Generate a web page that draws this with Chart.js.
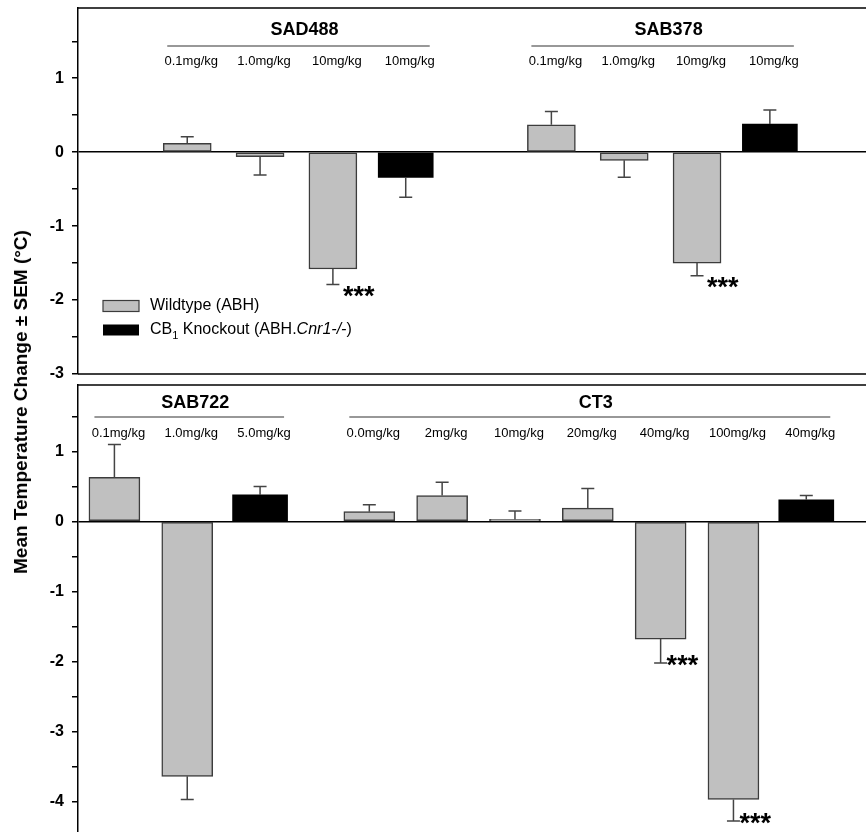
<!DOCTYPE html>
<html>
<head>
<meta charset="utf-8">
<script src="https://cdn.jsdelivr.net/npm/chart.js@4.4.0/dist/chart.umd.min.js"></script>
<style>
  html, body { margin: 0; padding: 0; background: #fff; overflow: hidden; }
  #wrap { position: relative; width: 866px; height: 832px; overflow: hidden; }
  canvas { position: absolute; left: 0; }
  #top-chart { top: 0; }
  #bottom-chart { top: 376px; }
  #y-title {
    position: absolute; left: 21px; top: 402px;
    transform: translate(-50%, -50%) rotate(-90deg);
    white-space: nowrap;
    font: bold 19px "Liberation Sans", Arial, sans-serif;
  }
</style>
</head>
<body>
<div id="wrap">
  <canvas id="top-chart" width="866" height="392" style="width:866px;height:392px"></canvas>
  <canvas id="bottom-chart" width="866" height="460" style="width:866px;height:460px"></canvas>
  <div id="y-title">Mean Temperature Change ± SEM (°C)</div>
</div>
<script>
// Top panel data (SAD488, SAB378)
const topGroups = ['SAD488', 'SAB378'];
const topGroupSlots = [[1, 4], [6, 9]];
const topDoseSlots = [1, 2, 3, 4, 6, 7, 8, 9];
const topDoseLabels = ['0.1mg/kg', '1.0mg/kg', '10mg/kg', '10mg/kg', '0.1mg/kg', '1.0mg/kg', '10mg/kg', '10mg/kg'];
const topWildSlots = [1, 2, 3, 6, 7, 8];
const topWildValues = [0.12, -0.06, -1.58, 0.37, -0.11, -1.50];
const topWildErrors = [0.09, 0.25, 0.21, 0.18, 0.23, 0.17];
const topWildStars = [false, false, true, false, false, true];
const topKoSlots = [4, 9];
const topKoValues = [-0.34, 0.38];
const topKoErrors = [0.27, 0.19];

// Bottom panel data (SAB722, CT3)
const bottomGroups = ['SAB722', 'CT3'];
const bottomGroupSlots = [[0, 2], [3.5, 9.5]];
const bottomDoseSlots = [0, 1, 2, 3.5, 4.5, 5.5, 6.5, 7.5, 8.5, 9.5];
const bottomDoseLabels = ['0.1mg/kg', '1.0mg/kg', '5.0mg/kg', '0.0mg/kg', '2mg/kg', '10mg/kg', '20mg/kg', '40mg/kg', '100mg/kg', '40mg/kg'];
const bottomWildSlots = [0, 1, 3.5, 4.5, 5.5, 6.5, 7.5, 8.5];
const bottomWildValues = [0.63, -3.64, 0.14, 0.37, 0.03, 0.19, -1.68, -3.97];
const bottomWildErrors = [0.47, 0.33, 0.10, 0.19, 0.12, 0.28, 0.34, 0.31];
const bottomWildStars = [false, false, false, false, false, false, true, true];
const bottomKoSlots = [2, 9.5];
const bottomKoValues = [0.38, 0.31];
const bottomKoErrors = [0.12, 0.06];

// Legend text
const seriesNames = ['Wildtype (ABH)', 'CB1 Knockout (ABH.Cnr1-/-)'];

const FONT = '"Liberation Sans", Arial, sans-serif';

function points(slots, values) {
  return slots.map((x, i) => ({ x: x, y: values[i] }));
}

// Error bars, stars, frame, group headers and legend
const panelDecor = {
  id: 'panelDecor',
  afterDatasetsDraw(chart, args, opts) {
    const ctx = chart.ctx;
    const xs = chart.scales.x;
    const ys = chart.scales.y;
    const area = chart.chartArea;
    ctx.save();

    // error bars
    chart.data.datasets.forEach(ds => {
      ds.errors.forEach((err, i) => {
        const v = ds.data[i].y;
        const dir = v < 0 ? -1 : 1;
        const px = xs.getPixelForValue(ds.data[i].x);
        const y0 = ys.getPixelForValue(v);
        const y1 = ys.getPixelForValue(v + dir * err);
        ctx.strokeStyle = '#444';
        ctx.lineWidth = 1.5;
        ctx.beginPath();
        ctx.moveTo(px, y0);
        ctx.lineTo(px, y1);
        ctx.moveTo(px - 6.5, y1);
        ctx.lineTo(px + 6.5, y1);
        ctx.stroke();
        if (ds.stars && ds.stars[i]) {
          ctx.fillStyle = '#000';
          ctx.font = 'bold 27px ' + FONT;
          ctx.textAlign = 'left';
          ctx.textBaseline = 'alphabetic';
          ctx.fillText('***', px + opts.starDx, y1 + opts.starDy);
        }
      });
    });

    // frame
    ctx.strokeStyle = '#000';
    ctx.lineWidth = 1.5;
    ctx.beginPath();
    ctx.moveTo(area.left, area.top);
    ctx.lineTo(chart.width + 2, area.top);
    if (opts.frameBottom) {
      ctx.moveTo(area.left, area.bottom);
      ctx.lineTo(chart.width + 2, area.bottom);
    }
    ctx.stroke();

    // group headers
    opts.groups.forEach((name, g) => {
      const x1 = xs.getPixelForValue(opts.groupSlots[g][0]) - 20;
      const x2 = xs.getPixelForValue(opts.groupSlots[g][1]) + 24;
      ctx.strokeStyle = '#333';
      ctx.lineWidth = 1.2;
      ctx.beginPath();
      ctx.moveTo(x1, opts.lineY);
      ctx.lineTo(x2, opts.lineY);
      ctx.stroke();
      ctx.fillStyle = '#000';
      ctx.font = 'bold 18px ' + FONT;
      ctx.textAlign = 'center';
      ctx.textBaseline = 'middle';
      ctx.fillText(name, (x1 + x2) / 2 + 6, opts.titleY);
    });
    ctx.font = '13px ' + FONT;
    ctx.textAlign = 'center';
    ctx.textBaseline = 'middle';
    opts.doseSlots.forEach((s, i) => {
      ctx.fillText(opts.doseLabels[i], xs.getPixelForValue(s) + 4, opts.labelY);
    });

    // legend
    if (opts.legend) {
      const lx = 103, ly = [306, 330];
      chart.data.datasets.forEach((ds, i) => {
        ctx.fillStyle = ds.backgroundColor;
        ctx.fillRect(lx, ly[i] - 5.5, 36, 11);
        if (ds.borderWidth) {
          ctx.strokeStyle = ds.borderColor;
          ctx.lineWidth = 1.2;
          ctx.strokeRect(lx, ly[i] - 5.5, 36, 11);
        }
      });
      ctx.fillStyle = '#000';
      ctx.textAlign = 'left';
      ctx.textBaseline = 'middle';
      ctx.font = '16px ' + FONT;
      ctx.fillText(seriesNames[0], 150, ly[0]);
      // "CB1 Knockout (ABH.Cnr1-/-)" with subscript and italics
      let tx = 150;
      ctx.fillText('CB', tx, ly[1]);
      tx += ctx.measureText('CB').width;
      ctx.font = '11px ' + FONT;
      ctx.fillText('1', tx, ly[1] + 6);
      tx += ctx.measureText('1').width;
      ctx.font = '16px ' + FONT;
      ctx.fillText(' Knockout (ABH.', tx, ly[1]);
      tx += ctx.measureText(' Knockout (ABH.').width;
      ctx.font = 'italic 16px ' + FONT;
      ctx.fillText('Cnr1-/-', tx, ly[1]);
      tx += ctx.measureText('Cnr1-/-').width;
      ctx.font = '16px ' + FONT;
      ctx.fillText(')', tx, ly[1]);
    }
    ctx.restore();
  }
};

function makePanel(canvasId, cfg) {
  return new Chart(document.getElementById(canvasId), {
    type: 'bar',
    data: {
      datasets: [
        {
          label: seriesNames[0],
          data: points(cfg.wildSlots, cfg.wildValues),
          errors: cfg.wildErrors,
          stars: cfg.wildStars,
          backgroundColor: '#c0c0c0',
          borderColor: '#3c3c3c',
          borderWidth: 1.5,
          borderSkipped: false,
          barThickness: cfg.grayWidth
        },
        {
          label: seriesNames[1],
          data: points(cfg.koSlots, cfg.koValues),
          errors: cfg.koErrors,
          backgroundColor: '#000000',
          borderWidth: 0,
          barThickness: 55
        }
      ]
    },
    options: {
      responsive: false,
      animation: false,
      grouped: false,
      layout: { padding: { top: cfg.padTop, bottom: cfg.padBottom, left: 0, right: 0 } },
      plugins: {
        legend: { display: false },
        tooltip: { enabled: false },
        panelDecor: {
          groups: cfg.groups,
          groupSlots: cfg.groupSlots,
          doseSlots: cfg.doseSlots,
          doseLabels: cfg.doseLabels,
          titleY: cfg.titleY,
          lineY: cfg.lineY,
          labelY: cfg.labelY,
          starDx: cfg.starDx,
          starDy: cfg.starDy,
          frameBottom: cfg.frameBottom,
          legend: cfg.legend
        }
      },
      scales: {
        x: { type: 'linear', min: -0.5, max: 10.32, offset: false, display: false },
        y: {
          min: cfg.yMin,
          max: cfg.yMax,
          afterBuildTicks: s => {
            s.ticks = s.ticks.filter(t => Math.abs(t.value * 2 - Math.round(t.value * 2)) < 1e-6);
          },
          afterFit: s => {
            s.width = 78;
            s.paddingTop = 0;
            s.paddingBottom = 0;
          },
          ticks: {
            stepSize: 0.5,
            autoSkip: false,
            padding: 8,
            color: '#000',
            font: { family: FONT, size: 16, weight: 'bold' },
            callback: v => Number.isInteger(v) ? String(v) : ''
          },
          grid: {
            color: c => (c.tick && c.tick.value === 0) ? '#000' : 'rgba(0,0,0,0)',
            lineWidth: 1.5,
            tickColor: '#000',
            tickLength: 6,
            tickWidth: 1.5
          },
          border: { color: '#000', width: 1.5 }
        }
      }
    },
    plugins: [panelDecor]
  });
}

makePanel('top-chart', {
  wildSlots: topWildSlots, wildValues: topWildValues, wildErrors: topWildErrors, wildStars: topWildStars,
  koSlots: topKoSlots, koValues: topKoValues, koErrors: topKoErrors,
  groups: topGroups, groupSlots: topGroupSlots, doseSlots: topDoseSlots, doseLabels: topDoseLabels,
  grayWidth: 48, yMin: -3, yMax: 1.95, padTop: 8, padBottom: 18,
  titleY: 30, lineY: 46, labelY: 61, starDx: 10, starDy: 20, frameBottom: true, legend: true
});

makePanel('bottom-chart', {
  wildSlots: bottomWildSlots, wildValues: bottomWildValues, wildErrors: bottomWildErrors, wildStars: bottomWildStars,
  koSlots: bottomKoSlots, koValues: bottomKoValues, koErrors: bottomKoErrors,
  groups: bottomGroups, groupSlots: bottomGroupSlots, doseSlots: bottomDoseSlots, doseLabels: bottomDoseLabels,
  grayWidth: 51, yMin: -4.45, yMax: 1.95, padTop: 9, padBottom: 3,
  titleY: 27, lineY: 41, labelY: 57, starDx: 6, starDy: 11, frameBottom: false, legend: false
});
</script>
</body>
</html>
